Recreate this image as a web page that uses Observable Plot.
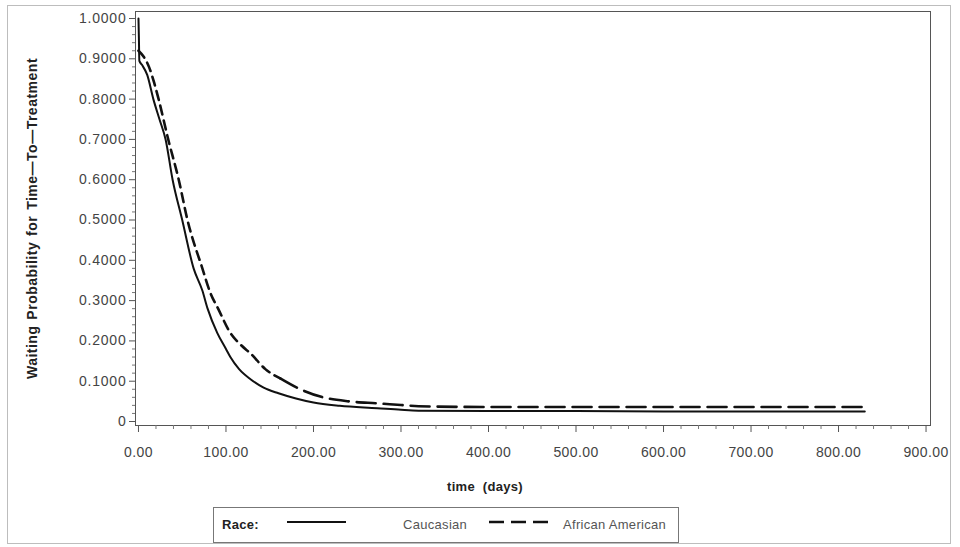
<!DOCTYPE html>
<html>
<head>
<meta charset="utf-8">
<script src="https://cdn.jsdelivr.net/npm/d3@7"></script>
<script src="https://cdn.jsdelivr.net/npm/@observablehq/plot@0.6"></script>
<style>
  html, body { margin: 0; padding: 0; background: #fff; }
  #page { position: relative; width: 960px; height: 547px; overflow: hidden; font-family: "Liberation Sans", Arial, sans-serif; }
  #border { position: absolute; left: 7px; top: 5px; width: 944px; height: 539px; border: 1px solid #bdbdbd; box-sizing: border-box; }
  #chart { position: absolute; left: 0; top: 0; }
  #chart svg { font-family: "Liberation Sans", Arial, sans-serif; }
  #chart [aria-label="y-axis label"] text { font-weight: bold; font-size: 14px; fill: #222; letter-spacing: 0.5px; word-spacing: 1.5px; }
  #chart [aria-label="y-axis tick label"] text { letter-spacing: 0.8px; }
  #chart [aria-label="x-axis tick label"] text { letter-spacing: 0.4px; }
  #xlabel { position: absolute; left: 485px; top: 479px; transform: translateX(-50%); font-weight: bold; font-size: 13px; color: #222; letter-spacing: 0.3px; white-space: nowrap; }
  #legend { position: absolute; left: 213px; top: 507px; width: 466px; height: 36px; border: 1px solid #777; box-sizing: border-box; font-size: 13px; color: #555; }
  #legend .it { position: absolute; top: 9px; white-space: nowrap; letter-spacing: 0.3px; }
  #legend svg { position: absolute; top: 10px; }
</style>
</head>
<body>
<div id="page">
  <div id="border"></div>
  <div id="chart"></div>
  <div id="xlabel">time&nbsp; (days)</div>
  <div id="legend"></div>
</div>
<script>
// ---- data ----
const seriesNames = ["Caucasian", "African American"];
const legendTitle = "Race:";
const yAxisLabel = "Waiting Probability for Time\u2014To\u2014Treatment";

const timeCauc = [0, 0.5, 1, 4, 10, 17, 24, 31, 39, 50, 63, 73, 79, 90, 100, 105, 115, 128, 143, 160, 180, 200, 230, 273, 300, 320, 400, 500, 600, 700, 830];
const probCauc = [1.0, 0.95, 0.895, 0.885, 0.86, 0.80, 0.75, 0.70, 0.60, 0.50, 0.38, 0.325, 0.28, 0.22, 0.18, 0.16, 0.13, 0.105, 0.084, 0.07, 0.057, 0.047, 0.039, 0.033, 0.029, 0.027, 0.026, 0.026, 0.025, 0.025, 0.025];

const timeAfr = [0, 6, 12, 18, 23, 34, 46, 56, 73, 82, 91, 105, 117, 128, 145, 162, 185, 211, 240, 273, 300, 320, 400, 500, 600, 700, 830];
const probAfr = [0.92, 0.905, 0.88, 0.84, 0.80, 0.70, 0.60, 0.50, 0.38, 0.32, 0.28, 0.22, 0.19, 0.169, 0.13, 0.107, 0.08, 0.06, 0.05, 0.045, 0.041, 0.038, 0.036, 0.036, 0.036, 0.036, 0.036];

const xTicks = [0, 100, 200, 300, 400, 500, 600, 700, 800, 900];
const yTicks = [0, 0.1, 0.2, 0.3, 0.4, 0.5, 0.6, 0.7, 0.8, 0.9, 1.0];

// ---- build tables ----
const cauc = timeCauc.map((t, i) => ({t, p: probCauc[i]}));
const afr = timeAfr.map((t, i) => ({t, p: probAfr[i]}));
const afrSteep = afr.filter(d => d.t <= 162);
const afrFlat = afr.filter(d => d.t >= 162);

const xMinor = d3.range(0, 901, 20).filter(v => v % 100 !== 0);
const yMinor = d3.range(0, 51).map(i => i / 50).filter((v, i) => i % 5 !== 0);

const chart = Plot.plot({
  width: 960,
  height: 500,
  marginLeft: 135,
  marginRight: 30,
  marginTop: 11,
  marginBottom: 75,
  style: {fontSize: "14px", color: "#444", background: "transparent"},
  x: {domain: [-3.4, 905.1]},
  y: {domain: [-0.0099, 1.0174]},
  marks: [
    Plot.frame({stroke: "#555"}),
    Plot.axisY({
      ticks: yMinor, tickSize: 3, stroke: "#777", tickFormat: () => "", label: null
    }),
    Plot.axisY({
      ticks: yTicks, tickSize: 6, tickPadding: 3, stroke: "#555",
      tickFormat: d => d === 0 ? "0" : d.toFixed(4),
      label: yAxisLabel, labelAnchor: "center", labelOffset: 108, labelArrow: "none"
    }),
    Plot.axisX({
      ticks: xMinor, tickSize: 4, stroke: "#777", tickFormat: () => "", label: null
    }),
    Plot.axisX({
      ticks: xTicks, tickSize: 7, tickPadding: 15, stroke: "#555",
      tickFormat: d => d.toFixed(2), label: null
    }),
    Plot.line(cauc, {x: "t", y: "p", stroke: "#111", strokeWidth: 2, curve: "monotone-x"}),
    Plot.line(afrSteep, {x: "t", y: "p", stroke: "#111", strokeWidth: 2.6, strokeDasharray: "9,6", curve: "monotone-x"}),
    Plot.line(afrFlat, {x: "t", y: "p", stroke: "#111", strokeWidth: 2.6, strokeDasharray: "19,8", curve: "monotone-x"})
  ]
});
document.getElementById("chart").appendChild(chart);

// ---- legend ----
const lg = document.getElementById("legend");
lg.innerHTML = `
  <div class="it" style="left:8px;font-weight:bold;color:#222">${legendTitle}</div>
  <svg width="60" height="8" style="left:73px"><line x1="0" x2="59" y1="4" y2="4" stroke="#111" stroke-width="2"/></svg>
  <div class="it" style="left:189px">${seriesNames[0]}</div>
  <svg width="60" height="8" style="left:275px"><line x1="0" x2="60" y1="4" y2="4" stroke="#111" stroke-width="2.6" stroke-dasharray="15,7"/></svg>
  <div class="it" style="left:349px">${seriesNames[1]}</div>
`;
</script>
</body>
</html>
